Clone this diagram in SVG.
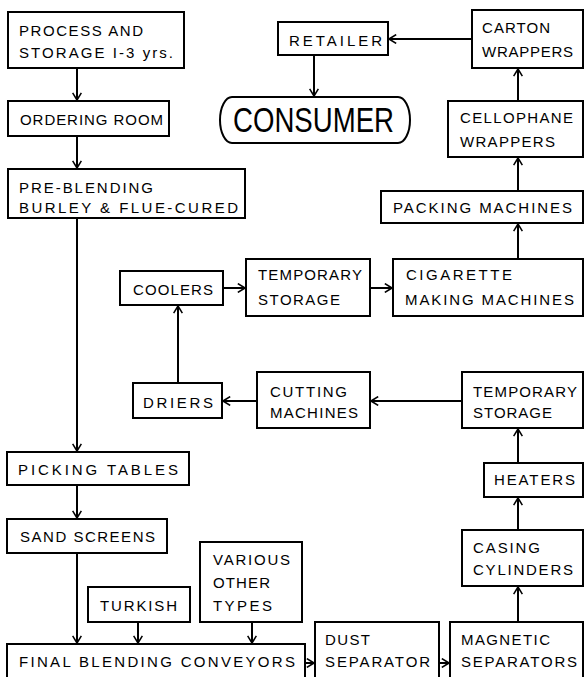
<svg xmlns="http://www.w3.org/2000/svg" width="585" height="677" viewBox="0 0 585 677">
<defs>
<marker id="ah" viewBox="0 0 10 12" refX="10" refY="6" markerWidth="8" markerHeight="10" markerUnits="userSpaceOnUse" orient="auto">
<path d="M1,0.5 L10,6 L1,11.5" fill="none" stroke="#000" stroke-width="2"/>
</marker>
<style>
.b{fill:#fff;stroke:#000;stroke-width:2}
.t{font-family:"Liberation Sans","DejaVu Sans",Arial,sans-serif;font-size:15px;fill:#000}
.c{fill:none;stroke:#000;stroke-width:2;marker-end:url(#ah)}
</style>
</defs>
<rect width="585" height="677" fill="#fff"/>
<g id="connectors">
<line class="c" x1="77" y1="68" x2="77" y2="100"/>
<line class="c" x1="77" y1="136" x2="77" y2="168"/>
<line class="c" x1="77" y1="218" x2="77" y2="451"/>
<line class="c" x1="77" y1="485" x2="77" y2="518"/>
<line class="c" x1="77" y1="553" x2="77" y2="643"/>
<line class="c" x1="138" y1="622" x2="138" y2="643"/>
<line class="c" x1="252" y1="622" x2="252" y2="643"/>
<line class="c" x1="305" y1="663" x2="314" y2="663"/>
<line class="c" x1="439" y1="663" x2="449" y2="663"/>
<line class="c" x1="518" y1="622" x2="518" y2="587"/>
<line class="c" x1="518" y1="530" x2="518" y2="498"/>
<line class="c" x1="518" y1="463" x2="518" y2="429"/>
<line class="c" x1="462" y1="401" x2="371" y2="401"/>
<line class="c" x1="257" y1="401" x2="223" y2="401"/>
<line class="c" x1="178" y1="383" x2="178" y2="306"/>
<line class="c" x1="223" y1="288" x2="245" y2="288"/>
<line class="c" x1="370" y1="288" x2="392" y2="288"/>
<line class="c" x1="518" y1="259" x2="518" y2="224"/>
<line class="c" x1="518" y1="191" x2="518" y2="158"/>
<line class="c" x1="518" y1="101" x2="518" y2="69"/>
<line class="c" x1="472" y1="39" x2="389" y2="39"/>
<line class="c" x1="314" y1="55" x2="314" y2="96"/>
</g>
<g id="process">
<rect class="b" x="8" y="12" width="176" height="56"/>
<text class="t" x="19" y="36" textLength="124">PROCESS AND</text>
<text class="t" x="19" y="58" textLength="154">STORAGE I-3 yrs.</text>
</g>
<g id="ordering">
<rect class="b" x="8" y="101" width="161" height="35"/>
<text class="t" x="20" y="125" textLength="143">ORDERING ROOM</text>
</g>
<g id="preblending">
<rect class="b" x="8" y="169" width="237" height="49"/>
<text class="t" x="19" y="193" textLength="134">PRE-BLENDING</text>
<text class="t" x="19" y="213" textLength="219">BURLEY &amp; FLUE-CURED</text>
</g>
<g id="retailer">
<rect class="b" x="278" y="22" width="110" height="33"/>
<text class="t" x="289" y="46" textLength="93">RETAILER</text>
</g>
<g id="consumer">
<path class="b" d="M232,97 H398 A12,23 0 0 1 398,143 H232 A12,23 0 0 1 232,97 Z"/>
<text class="t" x="233" y="132" style="font-size:35px" textLength="161" lengthAdjust="spacingAndGlyphs">CONSUMER</text>
</g>
<g id="carton">
<rect class="b" x="472" y="10" width="111" height="58"/>
<text class="t" x="482" y="33" textLength="68">CARTON</text>
<text class="t" x="482" y="57" textLength="91">WRAPPERS</text>
</g>
<g id="cellophane">
<rect class="b" x="448" y="101" width="135" height="56"/>
<text class="t" x="460" y="123" textLength="113">CELLOPHANE</text>
<text class="t" x="460" y="147" textLength="95">WRAPPERS</text>
</g>
<g id="packing">
<rect class="b" x="381" y="191" width="202" height="32"/>
<text class="t" x="393" y="213" textLength="179">PACKING MACHINES</text>
</g>
<g id="coolers">
<rect class="b" x="120" y="271" width="103" height="34"/>
<text class="t" x="133" y="295" textLength="80">COOLERS</text>
</g>
<g id="tempstorage1">
<rect class="b" x="246" y="259" width="124" height="57"/>
<text class="t" x="258" y="280" textLength="104">TEMPORARY</text>
<text class="t" x="258" y="305" textLength="82">STORAGE</text>
</g>
<g id="cigarette">
<rect class="b" x="393" y="259" width="190" height="57"/>
<text class="t" x="406" y="280" textLength="106">CIGARETTE</text>
<text class="t" x="405" y="305" textLength="169">MAKING MACHINES</text>
</g>
<g id="driers">
<rect class="b" x="133" y="383" width="89" height="35"/>
<text class="t" x="143" y="408" textLength="70">DRIERS</text>
</g>
<g id="cutting">
<rect class="b" x="257" y="372" width="113" height="56"/>
<text class="t" x="270" y="397" textLength="77">CUTTING</text>
<text class="t" x="270" y="418" textLength="88">MACHINES</text>
</g>
<g id="tempstorage2">
<rect class="b" x="462" y="372" width="121" height="56"/>
<text class="t" x="473" y="397" textLength="104">TEMPORARY</text>
<text class="t" x="473" y="418" textLength="79">STORAGE</text>
</g>
<g id="heaters">
<rect class="b" x="484" y="463" width="99" height="34"/>
<text class="t" x="494" y="485" textLength="81">HEATERS</text>
</g>
<g id="casing">
<rect class="b" x="462" y="530" width="121" height="56"/>
<text class="t" x="473" y="553" textLength="67">CASING</text>
<text class="t" x="473" y="575" textLength="100">CYLINDERS</text>
</g>
<g id="picking">
<rect class="b" x="7" y="452" width="182" height="33"/>
<text class="t" x="18" y="475" textLength="160">PICKING TABLES</text>
</g>
<g id="sand">
<rect class="b" x="7" y="519" width="160" height="34"/>
<text class="t" x="20" y="542" textLength="135">SAND SCREENS</text>
</g>
<g id="turkish">
<rect class="b" x="88" y="587" width="102" height="35"/>
<text class="t" x="100" y="611" textLength="77">TURKISH</text>
</g>
<g id="various">
<rect class="b" x="200" y="542" width="102" height="80"/>
<text class="t" x="213" y="565" textLength="77">VARIOUS</text>
<text class="t" x="213" y="588" textLength="57">OTHER</text>
<text class="t" x="213" y="611" textLength="59">TYPES</text>
</g>
<g id="final">
<rect class="b" x="7" y="644" width="298" height="45"/>
<text class="t" x="19" y="667" textLength="276">FINAL BLENDING CONVEYORS</text>
</g>
<g id="dust">
<rect class="b" x="315" y="622" width="124" height="67"/>
<text class="t" x="325" y="645" textLength="45">DUST</text>
<text class="t" x="325" y="667" textLength="105">SEPARATOR</text>
</g>
<g id="magnetic">
<rect class="b" x="450" y="622" width="133" height="67"/>
<text class="t" x="461" y="645" textLength="89">MAGNETIC</text>
<text class="t" x="461" y="667" textLength="116">SEPARATORS</text>
</g>
</svg>
